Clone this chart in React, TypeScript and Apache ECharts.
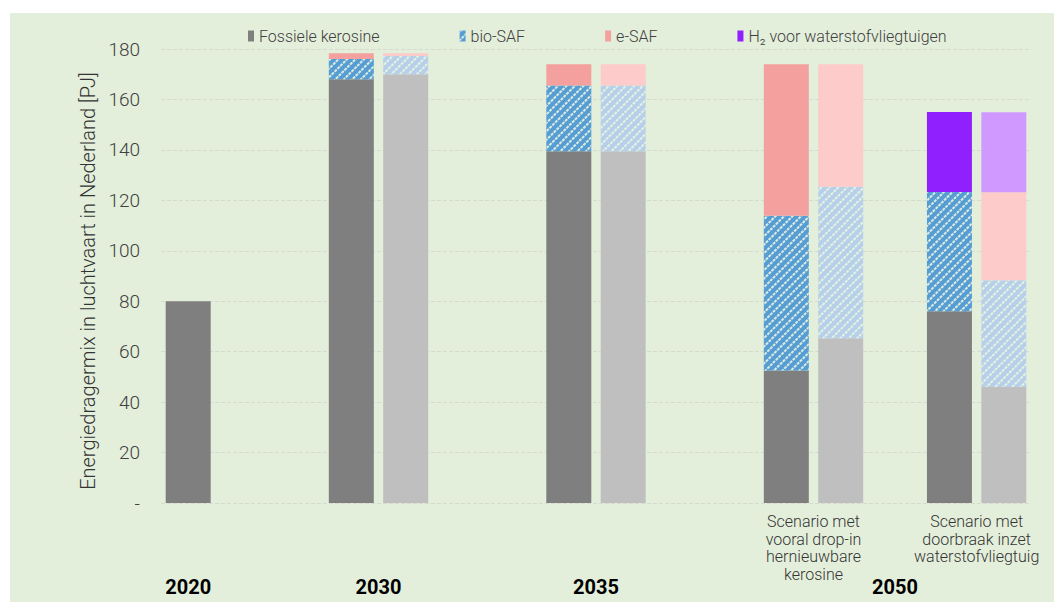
import React, { useEffect, useRef } from "react";
import * as echarts from "echarts";

// 16 slots on the category axis (empty slots are spacers, as in the source chart)
const slots = ["2020", "", "", "2030a", "2030b", "", "", "2035a", "2035b", "", "", "2050a", "2050b", "", "2050c", "2050d"];
// true = pale (second) variant of a pair
const pale = [false, false, false, false, true, false, false, false, true, false, false, false, true, false, false, true];

const fossil = [80, null, null, 168, 170, null, null, 139.5, 139.5, null, null, 52.5, 65.3, null, 76, 46];
const bioSAF = [null, null, null, 8, 7.2, null, null, 26, 26, null, null, 61.4, 60.1, null, 47.3, 42.3];
const eSAF = [null, null, null, 2.3, 1.1, null, null, 8.5, 8.5, null, null, 60.1, 48.6, null, null, 34.9];
const h2 = [null, null, null, null, null, null, null, null, null, null, null, null, null, null, 31.7, 31.7];

const yTicks = [0, 20, 40, 60, 80, 100, 120, 140, 160, 180];
const yName = "Energiedragermix in luchtvaart in Nederland [PJ]";

const yearLabels = [
  { text: "2020", from: 0, to: 0 },
  { text: "2030", from: 3, to: 4 },
  { text: "2035", from: 7, to: 8 },
  { text: "2050", from: 11, to: 15 },
];
const scenarioLabels = [
  { text: "Scenario met\nvooral drop-in\nhernieuwbare\nkerosine", from: 11, to: 12 },
  { text: "Scenario met\ndoorbraak inzet\nwaterstofvliegtuig", from: 14, to: 15 },
];

const FONT = "Roboto";

const decalStyle = {
  symbol: "rect",
  symbolSize: 1,
  color: "rgba(236,244,228,0.9)",
  dashArrayX: [3, 1],
  dashArrayY: [1.2, 3.2],
  rotation: -Math.PI / 4,
};

function mk(name: string, data: (number | null)[], dark: string, light: string, hatch: boolean) {
  return {
    name,
    type: "bar",
    stack: "total",
    barWidth: 45,
    data: data.map((v, i) => ({
      value: v,
      itemStyle: { color: pale[i] ? light : dark },
    })),
    itemStyle: { color: dark, decal: hatch ? decalStyle : undefined },
  };
}

export default function App() {
  const ref = useRef<HTMLDivElement>(null);
  useEffect(() => {
    if (!ref.current) return;
    const chart = echarts.init(ref.current, null, { renderer: "svg" });
    chart.setOption({
      animation: false,
      backgroundColor: "#e4efdb",
      textStyle: { fontFamily: FONT },
      legend: {
        left: 233,
        top: 10,
        itemGap: 80,
        itemWidth: 6,
        itemHeight: 11,
        icon: "rect",
        textStyle: { fontSize: 16, color: "#404040", fontFamily: FONT, fontWeight: 300 },
        data: ["Fossiele kerosine", "bio-SAF", "e-SAF", "H₂ voor waterstofvliegtuigen"],
      },
      grid: { left: 151, top: 36, right: 23, bottom: 99 },
      xAxis: {
        type: "category",
        data: slots,
        axisLine: { show: false },
        axisTick: { show: false },
        axisLabel: { show: false },
      },
      yAxis: {
        type: "value",
        min: 0,
        max: 180,
        interval: 20,
        axisLabel: {
          fontSize: 19,
          color: "#404040",
          margin: 21,
          fontFamily: FONT,
          fontWeight: 300,
          formatter: (v: number) => (v === 0 ? "-" : yTicks.includes(v) ? String(v) : ""),
        },
        splitLine: { lineStyle: { color: "#d6dbd0", type: "dashed", width: 1 } },
      },
      series: [
        mk("Fossiele kerosine", fossil, "#7f7f7f", "#bfbfbf", false),
        mk("bio-SAF", bioSAF, "#559dd2", "#b5d0e8", true),
        mk("e-SAF", eSAF, "#f4a09e", "#fdcbc9", false),
        mk("H₂ voor waterstofvliegtuigen", h2, "#9120ff", "#cf99ff", false),
      ],
    });
    const px = (i: number) => chart.convertToPixel({ xAxisIndex: 0 }, i) as number;
    const graphics: any[] = [
      {
        type: "text",
        x: 78,
        y: 268,
        rotation: Math.PI / 2,
        style: {
          text: yName,
          fontSize: 20,
          fontFamily: FONT,
          fontWeight: 300,
          fill: "#333",
          align: "center",
          verticalAlign: "middle",
        },
      },
    ];
    yearLabels.forEach((l) => {
      graphics.push({
        type: "text",
        x: (px(l.from) + px(l.to)) / 2,
        y: 574,
        style: {
          text: l.text,
          fontSize: 20,
          fontWeight: "bold",
          fontFamily: FONT,
          fill: "#000",
          align: "center",
          verticalAlign: "middle",
        },
      });
    });
    scenarioLabels.forEach((l) => {
      graphics.push({
        type: "text",
        x: (px(l.from) + px(l.to)) / 2,
        y: 500,
        style: {
          text: l.text,
          fontSize: 16,
          lineHeight: 17.5,
          fontFamily: FONT,
          fontWeight: 300,
          fill: "#333",
          align: "center",
          verticalAlign: "top",
        },
      });
    });
    chart.setOption({ graphic: graphics });
    return () => chart.dispose();
  }, []);
  return (
    <div style={{ position: "fixed", left: 0, top: 0, width: 1054, height: 602, background: "#fff" }}>
      <div ref={ref} style={{ position: "absolute", left: 10, top: 13, width: 1044, height: 589 }} />
    </div>
  );
}
